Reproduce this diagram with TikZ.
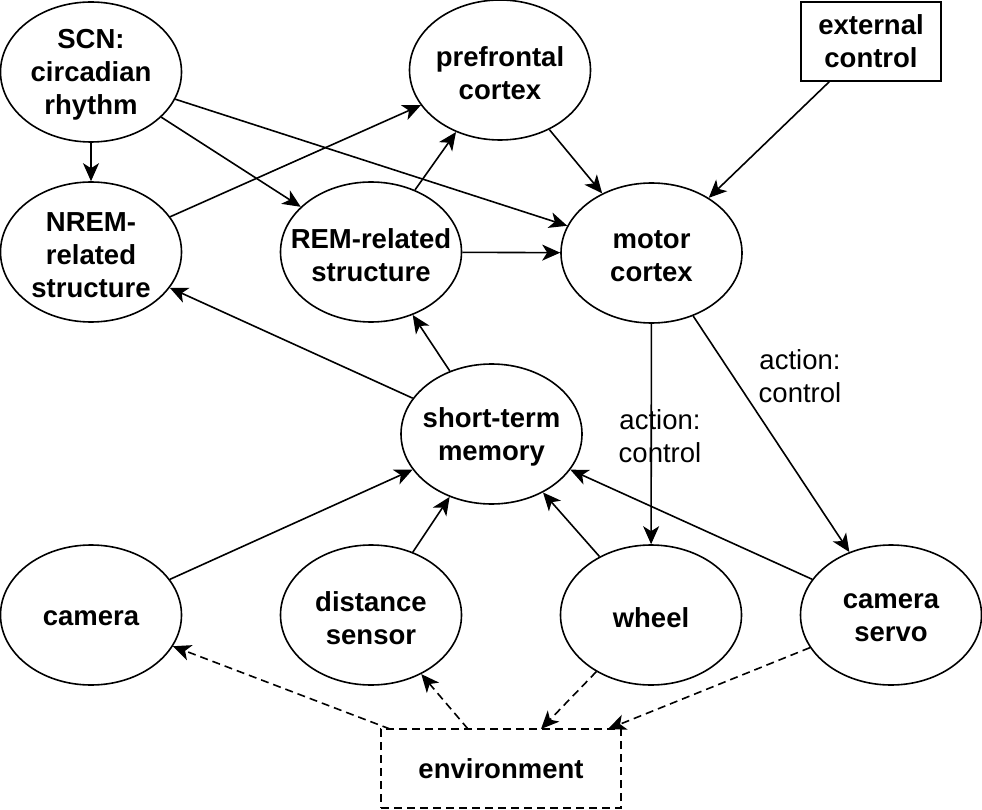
\documentclass[tikz,border=0pt]{standalone}
\usepackage{fontspec}
\setmainfont{Liberation Sans}
\usetikzlibrary{shapes.geometric,arrows.meta,calc}
\begin{document}
\begin{tikzpicture}[x=1pt,y=-1pt,
  every node/.style={font=\fontsize{27.5}{33}\selectfont},
  tx/.style={align=center,inner sep=0pt,yshift=-3pt,font=\fontsize{27.5}{33}\selectfont\bfseries},
  ell/.style={ellipse,draw,line width=1.6pt,minimum width=181pt,minimum height=140pt,inner sep=0pt},
  box/.style={rectangle,draw,line width=1.6pt,inner sep=0pt,align=center,font=\fontsize{27.5}{33}\selectfont\bfseries},
  arr/.style={line width=1.6pt,-{Stealth[length=18pt,width=16pt,inset=5pt]}},
  darr/.style={arr,dash pattern=on 8pt off 5pt},
  lab/.style={align=center,inner sep=0pt}]
\useasboundingbox (0,0) rectangle (982,810);
\node[ell,label={[tx]center:{SCN:\\circadian\\rhythm}}] (scn) at (91,72) {};
\node[ell,label={[tx]center:{prefrontal\\cortex}}] (pfc) at (500,70) {};
\node[box,minimum width=140pt,minimum height=79pt] (ext) at (871,41.5) {external\\control};
\node[ell,label={[tx]center:{NREM-\\related\\structure}}] (nrem) at (91,252) {};
\node[ell,label={[tx]center:{REM-related\\structure}}] (rem) at (371,252) {};
\node[ell,label={[tx]center:{motor\\cortex}}] (motor) at (651.5,253) {};
\node[ell,label={[tx]center:{short-term\\memory}}] (stm) at (491.5,434) {};
\node[ell,label={[tx]center:{camera}}] (cam) at (91,615) {};
\node[ell,label={[tx]center:{distance\\sensor}}] (dist) at (371,615) {};
\node[ell,label={[tx]center:{wheel}}] (wheel) at (651,615) {};
\node[ell,label={[tx]center:{camera\\servo}}] (servo) at (891,615) {};
\node[box,dash pattern=on 8pt off 5pt,minimum width=240pt,minimum height=79pt] (env) at (501,768.5) {environment};
\coordinate (e1) at (390,729);
\coordinate (e2) at (468,729);
\coordinate (e3) at (541,729);
\coordinate (e4) at (608,729);
\node[lab] (l1) at (660,436) {action:\\control};
\node[lab] (l2) at (800,376) {action:\\control};
\draw[arr] (scn) -- (nrem);
\draw[arr] (scn) -- (rem);
\draw[arr] (scn) -- (motor);
\draw[arr] (nrem) -- (pfc);
\draw[arr] (rem) -- (pfc);
\draw[arr] (rem) -- (motor);
\draw[arr] (pfc) -- (motor);
\draw[arr] (ext) -- (motor);
\draw[arr] (motor) -- (wheel);
\draw[arr] (motor) -- (servo);
\draw[arr] (stm) -- (nrem);
\draw[arr] (stm) -- (rem);
\draw[arr] (cam) -- (stm);
\draw[arr] (dist) -- (stm);
\draw[arr] (wheel) -- (stm);
\draw[arr] (servo) -- (stm);
\draw[darr] (e1) -- (cam);
\draw[darr] (e2) -- (dist);
\draw[darr] (wheel) -- (e3);
\draw[darr] (servo) -- (e4);
\end{tikzpicture}
\end{document}
